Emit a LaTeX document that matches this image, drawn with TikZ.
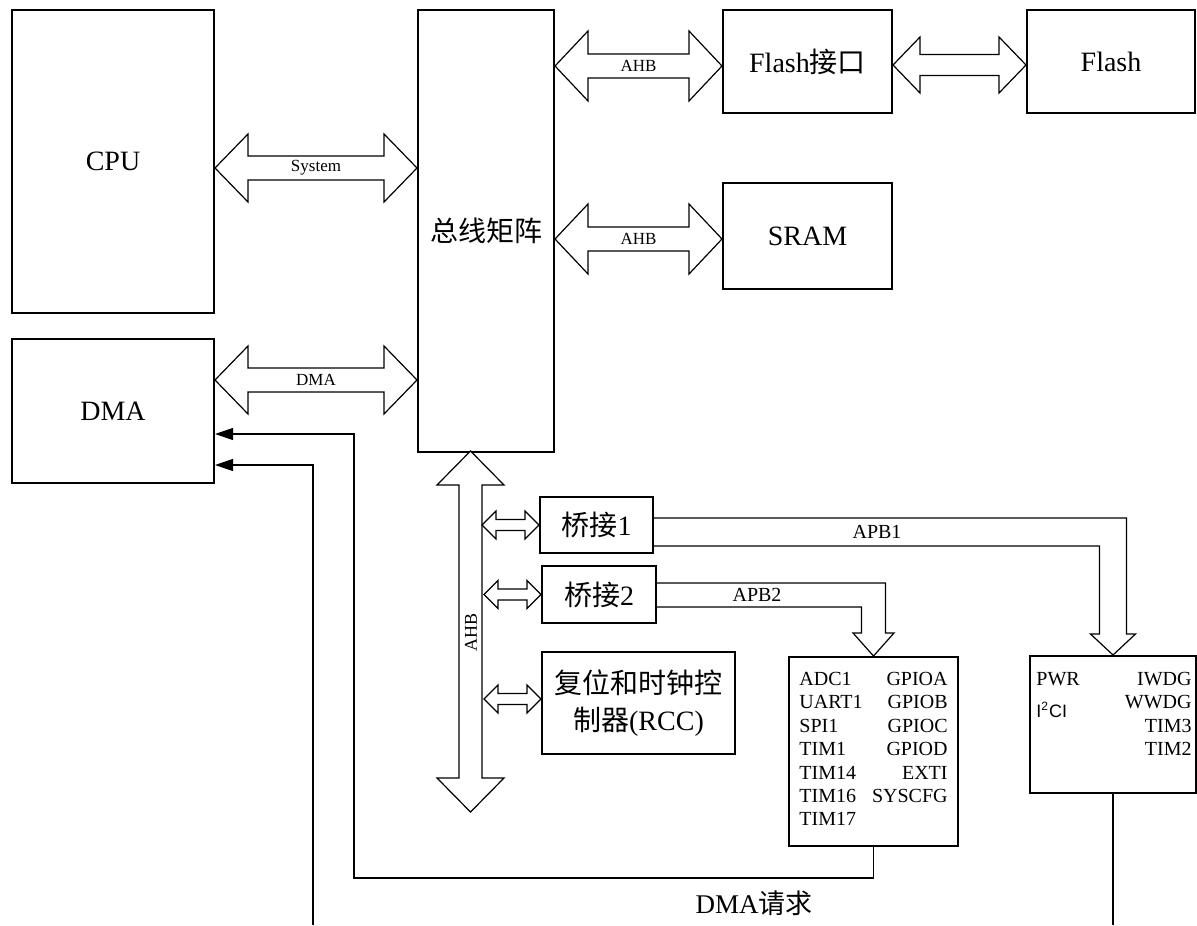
\documentclass[tikz,border=0pt]{standalone}
\usepackage{fontspec}
\setmainfont{Liberation Serif}
\newfontfamily\cjk{Noto Sans CJK SC}
\newfontfamily\arial{Liberation Sans}
\usetikzlibrary{arrows.meta,calc}

\tikzset{
  box/.style={draw, line width=1pt, inner sep=0pt, align=center, font=\fontsize{14}{17}\selectfont},
  bus/.style={draw, line width=0.6pt, fill=white, line join=miter},
  busline/.style={draw, line width=0.6pt, line join=miter},
  buslabel/.style={inner sep=0pt, font=\fontsize{8.5}{10}\selectfont},
  apblabel/.style={inner sep=0pt, font=\fontsize{10}{12}\selectfont},
  apbtext/.style={inner sep=0pt, align=left, font=\fontsize{10}{11.67}\selectfont},
  req/.style={line width=0.6pt, -{Triangle[length=9pt,width=6pt]}},
}

% 横向双箭头：#1,#2 两端，#3 杆半宽，#4 箭头半宽，#5 箭头长
\newcommand{\bush}[5]{%
  \draw[bus] let \p1=(#1), \p2=(#2), \n1={\x2-\x1-2*#5} in
    (\p1) -- ++(#5,#4) -- ++(0,#3-#4) -- ++(\n1,0) -- ++(0,#4-#3) -- (\p2)
    -- ++(-#5,-#4) -- ++(0,#4-#3) -- ++(-\n1,0) -- ++(0,#3-#4) -- cycle;}
% 竖向双箭头：#1 上端，#2 下端
\newcommand{\busv}[5]{%
  \draw[bus] let \p1=(#1), \p2=(#2), \n1={\y1-\y2-2*#5} in
    (\p1) -- ++(-#4,-#5) -- ++(#4-#3,0) -- ++(0,-\n1) -- ++(#3-#4,0) -- (\p2)
    -- ++(#4,#5) -- ++(#3-#4,0) -- ++(0,\n1) -- ++(#4-#3,0) -- cycle;}

\begin{document}
\begin{tikzpicture}[x=0.5pt, y=-0.5pt]
  \useasboundingbox (0,0) rectangle (1197,925);

  % 左侧：CPU 和 DMA
  \node[box, minimum width=101pt, minimum height=151.5pt] (cpu) at (113,161.5) {CPU};
  \node[box, minimum width=101pt, minimum height=72pt] (dma) at (113,411) {DMA};

  % 总线矩阵
  \node[box, minimum width=68pt, minimum height=221pt] (bus) at (486,231) {\cjk 总线矩阵};

  % 存储器
  \node[box, minimum width=84.5pt, minimum height=51.5pt] (flashif) at (807.5,61.5) {Flash{\cjk 接口}};
  \node[box, minimum width=84pt, minimum height=51.5pt] (flash) at (1111,61.5) {Flash};
  \node[box, minimum width=84.5pt, minimum height=53pt] (sram) at (807.5,236) {SRAM};

  % 桥接和 RCC
  \node[box, minimum width=56.5pt, minimum height=28pt] (br1) at (596.5,525) {{\cjk 桥接}1};
  \node[box, minimum width=57pt, minimum height=28.5pt] (br2) at (599,594.5) {{\cjk 桥接}2};
  \node[box, minimum width=96.5pt, minimum height=51pt, font=\fontsize{14}{18.5}\selectfont] (rcc) at (638.5,703)
    {{\cjk 复位和时钟控}\\{\cjk 制器}(RCC)};

  % 外设
  \node[box, minimum width=84.5pt, minimum height=94.5pt] (apb2) at (873.5,751.5) {};
  \node[box, minimum width=83pt, minimum height=68.5pt] (apb1) at (1113,724.5) {};
  \node[apbtext, anchor=north west] (apb2l) at (799,672) {ADC1\\UART1\\SPI1\\TIM1\\TIM14\\TIM16\\TIM17};
  \node[apbtext, anchor=north east, align=right] (apb2r) at (948,672) {GPIOA\\GPIOB\\GPIOC\\GPIOD\\EXTI\\SYSCFG};
  \node[apbtext, anchor=north west] (pwr) at (1036,672) {PWR};
  \node[inner sep=0pt, anchor=west, font=\arial\fontsize{9}{11}\selectfont] (i2c) at (1036,710) {I\textsuperscript{2}CI};
  \node[apbtext, anchor=north east, align=right] (apb1r) at (1192,672) {IWDG\\WWDG\\TIM3\\TIM2};

  % 总线
  \bush{cpu.east |- 0,168}{bus.west |- 0,168}{6pt}{17pt}{16.5pt}
  \bush{dma.east |- 0,380}{bus.west |- 0,380}{6pt}{17pt}{16.5pt}
  \bush{bus.east |- 0,66}{flashif.west |- 0,66}{6pt}{17.5pt}{16.5pt}
  \bush{bus.east |- 0,239}{sram.west |- 0,239}{6pt}{17.5pt}{16.5pt}
  \bush{flashif.east |- 0,65}{flash.west |- 0,65}{5.25pt}{14pt}{13.5pt}
  \coordinate (ahbtop) at (470.5,451);
  \coordinate (ahbbot) at (470.5,812);
  \busv{ahbtop}{ahbbot}{5.75pt}{16.75pt}{17pt}
  \bush{482,525}{br1.west}{2.75pt}{7pt}{7pt}
  \bush{484,594.5}{br2.west}{2.75pt}{7pt}{7pt}
  \bush{484,699}{rcc.west |- 0,699}{2.75pt}{7pt}{7pt}

  \node[buslabel] (lsys) at (316,168) {System};
  \node[buslabel] (ldma) at (316,380) {DMA};
  \node[buslabel] (lahb1) at (638.5,66) {AHB};
  \node[buslabel] (lahb2) at (638.5,239) {AHB};
  \node[buslabel, rotate=90, font=\fontsize{9}{10}\selectfont] (lahb3) at (471,632) {AHB};

  % APB1 / APB2
  \draw[busline] ($(br1.east)+(0,-7)$) -| ($(apb1.north)+(13.5,-21)$) -- ++(9,0) -- (apb1.north)
    -- ++(-22.5,-21) -- ++(9,0) |- ($(br1.east)+(0,21)$);
  \draw[busline] ($(br2.east)+(0,-11.5)$) -| ($(apb2.north)+(12,-23)$) -- ++(8.5,0) -- (apb2.north)
    -- ++(-20.5,-23) -- ++(8.5,0) |- ($(br2.east)+(0,12.5)$);
  \node[apblabel] (lapb1) at (877,532) {APB1};
  \node[apblabel] (lapb2) at (757,595) {APB2};

  % DMA 请求
  \coordinate (req1) at (354,434);
  \coordinate (req2) at (313,925);
  \draw[req] (apb2.south) -- ++(0,31) -| (req1) -- (req1 -| dma.east);
  \draw[req] (req2) |- (dma.east |- 0,465);
  \draw[line width=0.6pt] (apb1.south) -- (apb1.south |- req2);
  \node[inner sep=0pt, font=\fontsize{13.5}{16}\selectfont] (lreq) at (754,903) {DMA{\cjk 请求}};
\end{tikzpicture}
\end{document}
